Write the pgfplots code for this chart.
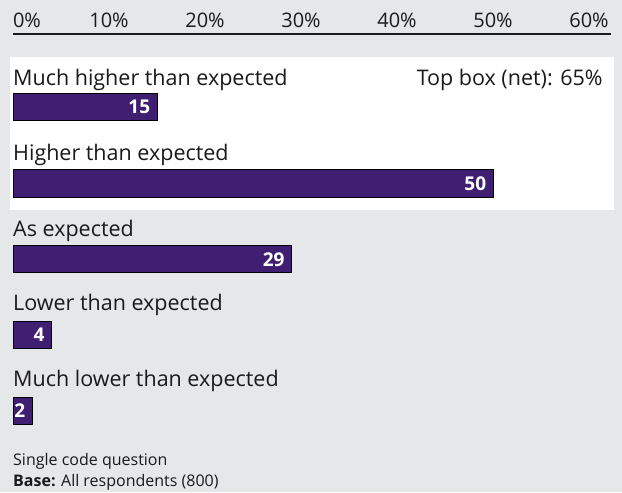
\documentclass[border=0pt]{standalone}
\usepackage{pgfplots}
\pgfplotsset{compat=1.18}
\usepackage{fontspec}
\setmainfont{Open Sans}
\definecolor{bg}{RGB}{230,231,233}
\definecolor{barc}{RGB}{64,31,114}
\definecolor{txt}{RGB}{26,26,26}
\begin{document}
\begin{tikzpicture}
\begin{axis}[
  scale only axis, width=598pt, height=458pt,
  xmin=0, xmax=62.2917, ymin=-491, ymax=-34,
  enlargelimits=false, clip=false, axis on top,
  axis x line=top, hide y axis,
  x axis line style={-, line width=1.3pt, color=txt},
  xtick={0,10,20,30,40,50,60}, major tick length=0pt,
  xticklabels={\makebox[0pt][l]{0\%},10\%,20\%,30\%,40\%,50\%,60\%},
  xticklabel style={anchor=base, yshift=7pt, inner sep=0pt, font=\fontsize{20}{24}\selectfont, text=txt},
  xbar, bar width=27,
  nodes near coords,
  /pgf/number format/assume math mode=true,
  nodes near coords style={anchor=east, xshift=-6.5pt, text=white, font=\fontsize{19}{22}\selectfont\bfseries, inner sep=0pt},
]
\fill[bg] (axis cs:-1.3542,0) rectangle (axis cs:63.4375,-491);
\fill[white] (axis cs:-0.3125,-56.5) rectangle (axis cs:62.6,-210);
\addplot[draw=black, line width=0.8pt, fill=barc] coordinates {(15,-107) (50,-183) (29,-258.7) (4,-334) (2,-410)};
\begin{scope}[every node/.style={anchor=base west, inner sep=0pt, text=txt, font=\fontsize{21.5}{24}\selectfont}]
\node at (axis cs:0,-85.5) {Much higher than expected};
\node at (axis cs:0,-160) {Higher than expected};
\node at (axis cs:0,-236) {As expected};
\node at (axis cs:0,-310) {Lower than expected};
\node at (axis cs:0,-386) {Much lower than expected};
\node[anchor=base east] at (axis cs:61.43,-85.5) {Top box (net): 65\%};
\end{scope}
\begin{scope}[every node/.style={anchor=base west, inner sep=0pt, text=txt, font=\fontsize{16}{18}\selectfont}]
\node at (axis cs:0,-464.3) {Single code question};
\node at (axis cs:0,-485) {\textbf{Base:} All respondents (800)};
\end{scope}
\end{axis}
\end{tikzpicture}
\end{document}
